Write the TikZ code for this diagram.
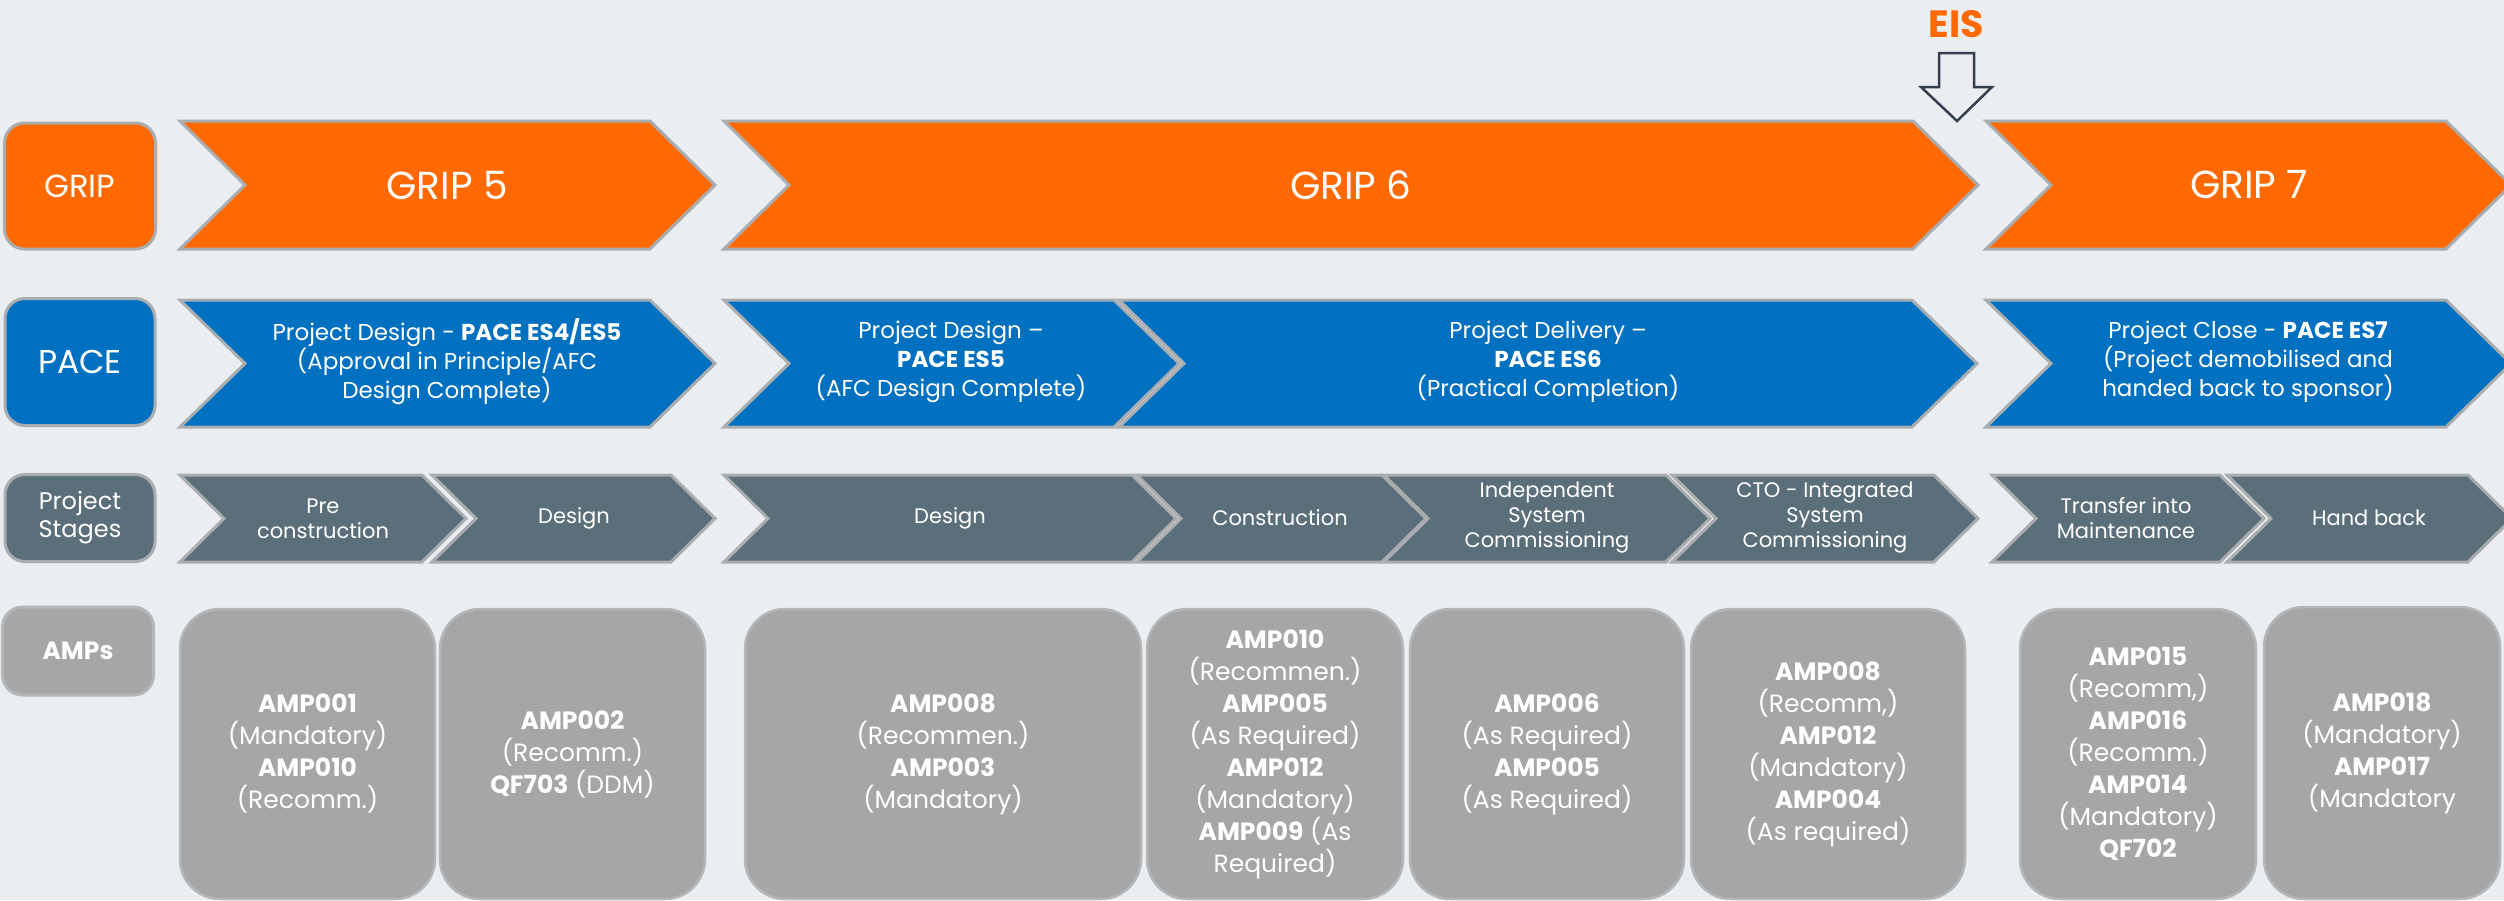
\documentclass[tikz,border=0pt]{standalone}
\usepackage{fontspec}
\setmainfont{Poppins}

\definecolor{bgcol}{HTML}{EAEEF1}
\definecolor{griporange}{HTML}{FF6900}
\definecolor{paceblue}{HTML}{0070C0}
\definecolor{stageslate}{HTML}{5B6F7A}
\definecolor{ampgrey}{HTML}{A6A6A6}
\definecolor{edgegrey}{HTML}{A9ADB0}
\definecolor{ampedge}{HTML}{B3B7BA}
\definecolor{eisdark}{HTML}{333F4F}

% chevron: style, left x, tip x, top y, height, depth
\newcommand{\chev}[6]{%
  \path[#1] (#2,#4) -- ({#3-#6},#4) -- (#3,{#4+#5/2}) -- ({#3-#6},{#4+#5})
    -- (#2,{#4+#5}) -- ({#2+#6},{#4+#5/2}) -- cycle;}

\newcommand{\gripfont}{\fontsize{39}{44}\selectfont}
\newcommand{\pacefont}{\fontsize{23}{29}\selectfont}
\newcommand{\stagefont}{\fontsize{21}{25}\selectfont}
\newcommand{\ampfont}{\fontsize{25}{32}\selectfont}

\begin{document}
\begin{tikzpicture}[x=1pt,y=-1pt,
    rowlabel/.style={draw=edgegrey,line width=3pt,rounded corners=20pt,text=white,align=center},
    chevron/.style={draw=edgegrey,line width=3pt,line join=miter},
    ampbox/.style={fill=ampgrey,draw=ampedge,line width=2.5pt,rounded corners=40pt,
      text=white,align=center,font=\ampfont}]
\path[use as bounding box,fill=bgcol] (0,0) rectangle (2504,900);
\clip (0,0) rectangle (2504,900);

% % row labels
\node[rowlabel,fill=griporange,minimum width=151pt,minimum height=126pt,font=\fontsize{32}{38}\selectfont] (griplbl) at (80,186) {GRIP};
\node[rowlabel,fill=paceblue,minimum width=150pt,minimum height=127pt,font=\fontsize{33}{38}\selectfont] (pacelbl) at (80,362) {PACE};
\node[rowlabel,fill=stageslate,minimum width=150pt,minimum height=87pt,font=\fontsize{24}{28}\selectfont] (stagelbl) at (80,518) {Project\\Stages};
\node[rowlabel,fill=ampgrey,draw=ampedge,minimum width=151pt,minimum height=88pt,font=\fontsize{25}{30}\selectfont\bfseries] (amplbl) at (78,651) {AMPs};

% % GRIP row
\chev{chevron,fill=griporange}{180}{715}{121}{128}{65}
\chev{chevron,fill=griporange}{724}{1978}{121}{128}{65}
\chev{chevron,fill=griporange}{1986}{2511}{121}{128}{65}

% % PACE row
\chev{chevron,fill=paceblue}{180}{715}{300}{127}{65}
\chev{chevron,fill=paceblue}{724}{1179}{300}{127}{65}
\chev{chevron,fill=paceblue}{1119}{1977}{300}{127}{65}
\chev{chevron,fill=paceblue}{1986}{2511}{300}{127}{65}

% % stages row
\chev{chevron,fill=stageslate}{180}{466}{475}{87}{44}
\chev{chevron,fill=stageslate}{432}{715}{475}{87}{44}
\chev{chevron,fill=stageslate}{724}{1176}{475}{87}{44}
\chev{chevron,fill=stageslate}{1137}{1426}{475}{87}{44}
\chev{chevron,fill=stageslate}{1384}{1710}{475}{87}{44}
\chev{chevron,fill=stageslate}{1672}{1978}{475}{87}{44}
\chev{chevron,fill=stageslate}{1992}{2264}{475}{87}{44}
\chev{chevron,fill=stageslate}{2227}{2512}{475}{87}{44}

\begin{scope}[every node/.style={text=white,align=center,inner sep=0pt}]
    \node[font=\gripfont] (grip5) at (447,185) {GRIP 5};
    \node[font=\gripfont] (grip6) at (1351,185) {GRIP 6};
    \node[font=\gripfont] (grip7) at (2249,185) {GRIP 7};

    \node[font=\pacefont] (pace1) at (447,362) {Project Design - \textbf{PACE ES4/ES5}\\(Approval in Principle/AFC\\Design Complete)};
    \node[font=\pacefont] (pace2) at (951,362) {Project Design --\\\textbf{PACE ES5}\\(AFC Design Complete)};
    \node[font=\pacefont] (pace3) at (1548,362) {Project Delivery --\\\textbf{PACE ES6}\\(Practical Completion)};
    \node[font=\pacefont] (pace4) at (2248,362) {Project Close - \textbf{PACE ES7}\\(Project demobilised and\\handed back to sponsor)};

    \node[font=\stagefont] (stage1) at (323,519) {Pre\\construction};
    \node[font=\stagefont] (stage2) at (574,518) {Design};
    \node[font=\stagefont] (stage3) at (950,518) {Design};
    \node[font=\stagefont] (stage4) at (1280,518) {Construction};
    \node[font=\stagefont] (stage5) at (1547,518) {Independent\\System\\Commissioning};
    \node[font=\stagefont] (stage6) at (1825,518) {CTO - Integrated\\System\\Commissioning};
    \node[font=\stagefont] (stage7) at (2126,518) {Transfer into\\Maintenance};
    \node[font=\stagefont] (stage8) at (2369,518) {Hand back};
\end{scope}

% % AMP boxes
\node[ampbox,minimum width=255pt,minimum height=290pt] (amp1) at (307.5,754) {\textbf{AMP001}\\(Mandatory)\\\textbf{AMP010}\\(Recomm.)};
\node[ampbox,minimum width=265pt,minimum height=290pt] (amp2) at (572.5,754) {\textbf{AMP002}\\(Recomm.)\\\textbf{QF703} (DDM)};
\node[ampbox,minimum width=396pt,minimum height=290pt] (amp3) at (943,754) {\textbf{AMP008}\\(Recommen.)\\\textbf{AMP003}\\(Mandatory)};
\node[ampbox,minimum width=256pt,minimum height=290pt] (amp4) at (1275,754) {\textbf{AMP010}\\(Recommen.)\\\textbf{AMP005}\\(As Required)\\\textbf{AMP012}\\(Mandatory)\\\textbf{AMP009} (As\\Required)};
\node[ampbox,minimum width=274pt,minimum height=290pt] (amp5) at (1547,754) {\textbf{AMP006}\\(As Required)\\\textbf{AMP005}\\(As Required)};
\node[ampbox,minimum width=274pt,minimum height=290pt] (amp6) at (1828,754) {\textbf{AMP008}\\(Recomm,)\\\textbf{AMP012}\\(Mandatory)\\\textbf{AMP004}\\(As required)};
\node[ampbox,minimum width=236pt,minimum height=290pt] (amp7) at (2138,754) {\textbf{AMP015}\\(Recomm,)\\\textbf{AMP016}\\(Recomm.)\\\textbf{AMP014}\\(Mandatory)\\\textbf{QF702}};
\node[ampbox,minimum width=236pt,minimum height=292pt] (amp8) at (2382,753) {\textbf{AMP018}\\(Mandatory)\\\textbf{AMP017}\\(Mandatory};

% % EIS marker
\node[text=griporange,inner sep=0pt,font=\fontsize{38}{44}\selectfont\bfseries] (eis) at (1956,24) {EIS};
\draw[eisdark,line width=2.5pt,fill=bgcol,line join=miter] (1939,53) -- (1974,53) -- (1974,87) -- (1992,87)
    -- (1957,121) -- (1921,87) -- (1939,87) -- cycle;
\end{tikzpicture}
\end{document}
